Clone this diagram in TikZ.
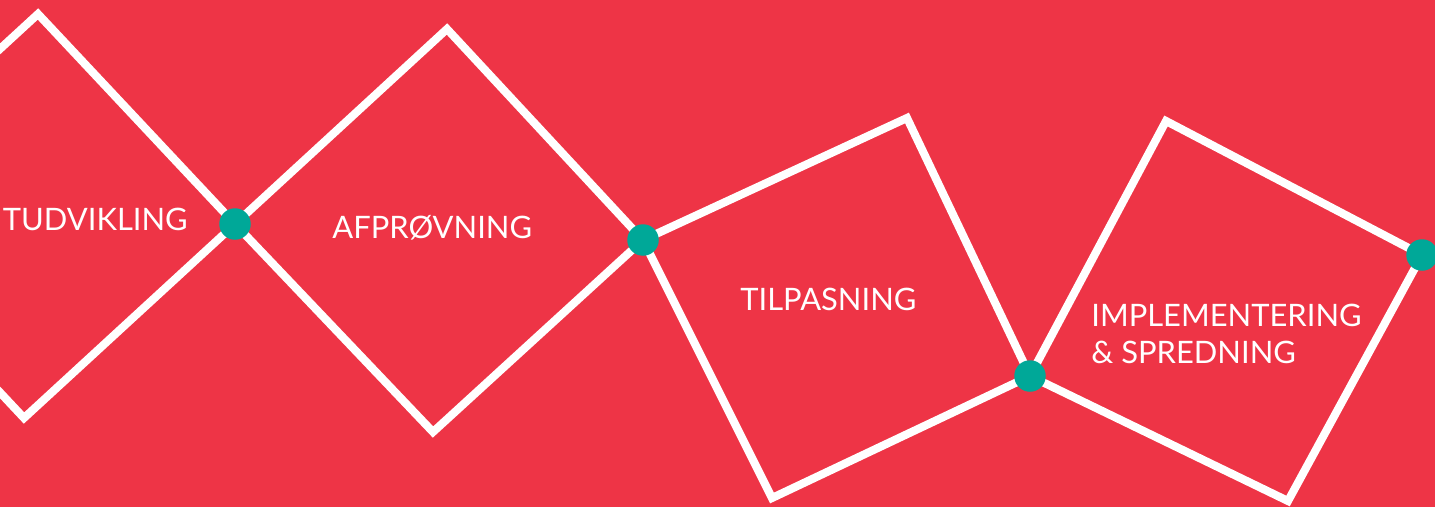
\documentclass[tikz,border=0pt]{standalone}
\usepackage{fontspec}
\setmainfont{Lato}
\usetikzlibrary{positioning}

\definecolor{bgred}{RGB}{238,52,70}
\definecolor{dotteal}{RGB}{0,168,152}

\begin{document}
\begin{tikzpicture}[
    x=0.02cm, y=-0.02cm,
    frame/.style = {draw=white, line width=4.6pt, line join=miter},
    dot/.style   = {circle, fill=dotteal, minimum size=0.63cm, inner sep=0pt},
    lab/.style   = {text=white, font=\fontsize{17.6pt}{21pt}\selectfont, inner sep=0pt}
  ]

  % --- background ---
  \fill[bgred] (0,0) rectangle (1435,507);
  \useasboundingbox (0,0) rectangle (1435,507);
  \clip (0,0) rectangle (1435,507);

  % --- corners of the four squares ---
  \coordinate (a1) at (-173,208);
  \coordinate (a2) at (38,14);
  \coordinate (a3) at (235,224);
  \coordinate (a4) at (24,418);

  \coordinate (b2) at (447,29);
  \coordinate (b3) at (643,240);
  \coordinate (b4) at (433,432);

  \coordinate (c2) at (907,118);
  \coordinate (c3) at (1030,376);
  \coordinate (c4) at (772,498);

  \coordinate (e2) at (1166,121);
  \coordinate (e3) at (1422,255);
  \coordinate (e4) at (1288,501);

  % --- squares ---
  \draw[frame] (a1) -- (a2) -- (a3) -- (a4) -- cycle;
  \draw[frame] (a3) -- (b2) -- (b3) -- (b4) -- cycle;
  \draw[frame] (b3) -- (c2) -- (c3) -- (c4) -- cycle;
  \draw[frame] (c3) -- (e2) -- (e3) -- (e4) -- cycle;

  % --- joints ---
  \node[dot] (d1) at (a3) {};
  \node[dot] (d2) at (b3) {};
  \node[dot] (d3) at (c3) {};
  \node[dot] (d4) at (e3) {};

  % --- phase labels ---
  \node[lab, anchor=base east] (udv) at (188,230) {TUDVIKLING};
  \node[lab, anchor=base west] (afp) at (332,238) {AFPRØVNING};
  \node[lab, anchor=base west] (til) at (740,310) {TILPASNING};
  \node[lab, anchor=base west] (imp) at (1091,326) {IMPLEMENTERING};
  \node[lab, anchor=base west] (spr) at (1091,363) {\& SPREDNING};

\end{tikzpicture}
\end{document}
